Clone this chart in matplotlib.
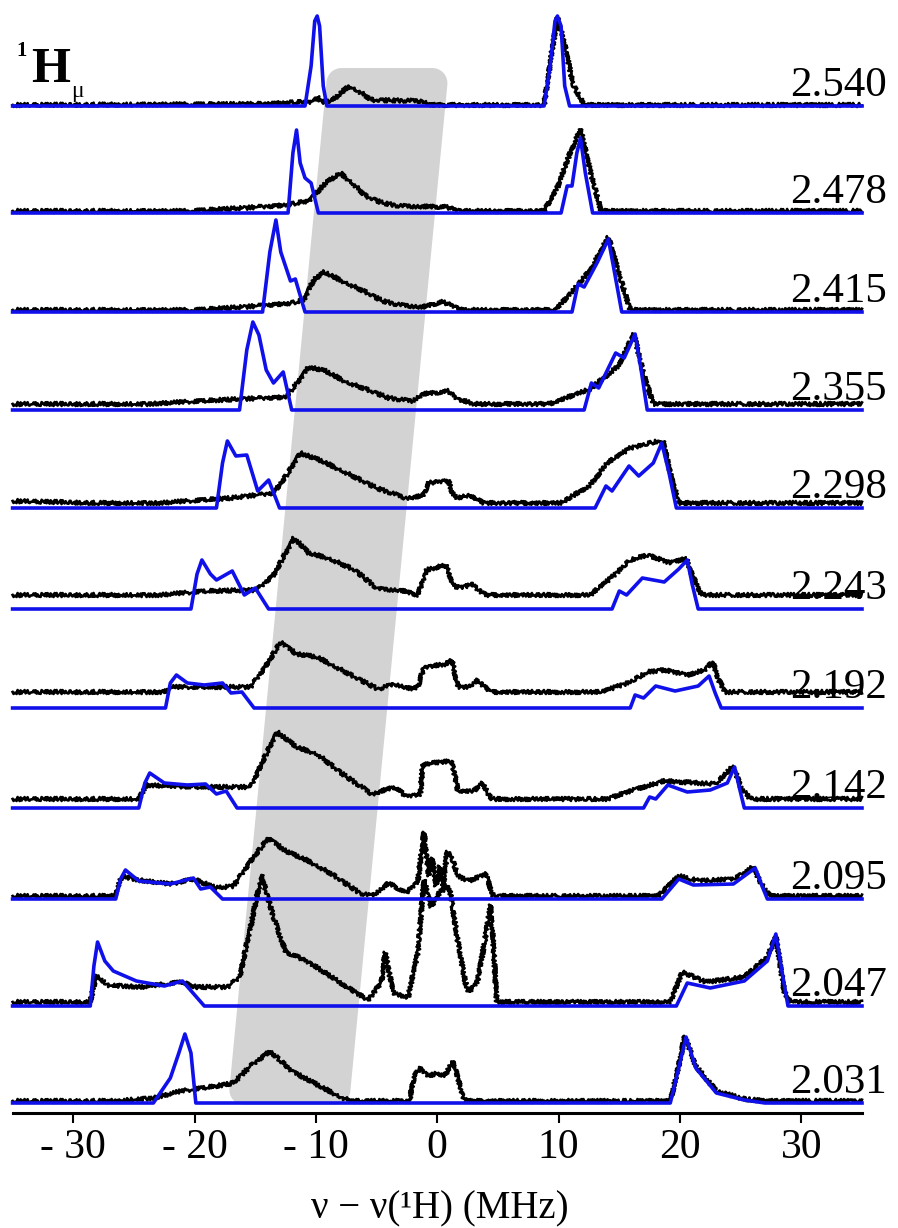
import matplotlib
matplotlib.use("Agg")
import numpy as np
import matplotlib.pyplot as plt
from matplotlib.patches import Polygon

plt.rcParams['font.family'] = ['Liberation Serif', 'DejaVu Serif']

# ── Field values (T) for each stacked spectrum, top to bottom ────────────────
fields = ["2.540", "2.478", "2.415", "2.355", "2.298", "2.243",
          "2.192", "2.142", "2.095", "2.047", "2.031"]

# ── Simulated spectra: (frequency offset MHz, intensity) ─────────────────────
sim_2540 = [(-35, 0), (-10.9, 0), (-10.4, 40), (-10.1, 85), (-9.9, 90), (-9.7, 80),
            (-9.4, 20), (-9.1, 0), (8.8, 0), (9.3, 40), (9.7, 85), (9.9, 90),
            (10.2, 80), (10.5, 20), (10.9, 0), (35, 0)]
sim_2478 = [(-35, 0), (-12.3, 0), (-11.9, 60), (-11.6, 83), (-11.3, 50), (-10.9, 35),
            (-10.4, 30), (-9.8, 0), (10.2, 0), (10.7, 27), (11.1, 27), (11.5, 60),
            (11.8, 75), (12.2, 40), (12.8, 0), (35, 0)]
sim_2415 = [(-35, 0), (-14.4, 0), (-13.8, 60), (-13.3, 92), (-12.9, 60), (-12.1, 31),
            (-11.7, 33), (-10.9, 0), (11.1, 0), (11.6, 28), (12.1, 25), (13.2, 50),
            (14.1, 73), (14.6, 40), (15.2, 0), (35, 0)]
sim_2355 = [(-35, 0), (-16.3, 0), (-15.7, 60), (-15.2, 88), (-14.7, 75), (-14.1, 40),
            (-13.5, 27), (-12.7, 38), (-12.0, 0), (12.1, 0), (12.7, 27), (13.3, 22),
            (14.7, 57), (15.4, 52), (16.3, 76), (16.8, 40), (17.3, 0), (35, 0)]
sim_2298 = [(-35, 0), (-18.2, 0), (-17.7, 45), (-17.3, 67), (-16.6, 52), (-15.7, 53),
            (-14.8, 17), (-13.9, 28), (-13.0, 0), (13.0, 0), (13.9, 22), (14.4, 17),
            (15.8, 42), (16.6, 32), (17.8, 45), (18.5, 65), (19.1, 35), (19.7, 0), (35, 0)]
sim_2243 = [(-35, 0), (-20.3, 0), (-19.8, 35), (-19.4, 49), (-18.7, 35), (-18.2, 29),
            (-16.9, 38), (-15.9, 14), (-15.0, 21), (-13.9, 0), (14.4, 0), (15.0, 18),
            (15.6, 14), (16.9, 31), (18.7, 27), (19.9, 40), (20.6, 49), (21.0, 25),
            (21.5, 0), (35, 0)]
sim_2192 = [(-35, 0), (-22.4, 0), (-22.0, 25), (-21.5, 33), (-20.6, 25), (-19.2, 23),
            (-17.7, 25), (-17.0, 15), (-16.1, 16), (-15.1, 0), (15.9, 0), (16.3, 13),
            (17.0, 10), (18.0, 22), (19.6, 17), (21.5, 22), (22.4, 32), (22.9, 15),
            (23.4, 0), (35, 0)]
sim_2142 = [(-35, 0), (-24.6, 0), (-24.1, 25), (-23.7, 35), (-22.5, 25), (-20.6, 23),
            (-19.1, 24), (-18.2, 14), (-17.4, 17), (-16.5, 0), (17.0, 0), (17.5, 11),
            (18.0, 9), (19.0, 23), (20.6, 16), (22.5, 18), (23.9, 25), (24.5, 41),
            (24.9, 20), (25.3, 0), (35, 0)]
sim_2095 = [(-35, 0), (-26.5, 0), (-26.1, 20), (-25.7, 29), (-24.6, 18), (-22.0, 15),
            (-20.1, 21), (-19.5, 10), (-18.7, 12), (-17.7, 0), (18.5, 0), (19.9, 20),
            (21.1, 14), (24.4, 15), (26.2, 31), (26.7, 15), (27.2, 0), (35, 0)]
sim_2047 = [(-35, 0), (-28.6, 0), (-28.3, 40), (-28.0, 64), (-27.4, 45), (-26.7, 35),
            (-24.8, 25), (-22.5, 20), (-21.0, 25), (-19.2, 0), (19.7, 0), (20.6, 23),
            (22.5, 18), (25.3, 25), (27.2, 45), (27.9, 72), (28.4, 35), (28.9, 0), (35, 0)]
sim_2031 = [(-35, 0), (-23.4, 0), (-22.0, 25), (-21.3, 50), (-20.8, 69), (-20.3, 50),
            (-19.9, 0), (19.2, 0), (19.8, 30), (20.5, 66), (21.3, 35), (23.0, 10),
            (25.3, 3), (27.0, 0), (35, 0)]

# ── Experimental spectra: (frequency offset MHz, intensity) ──────────────────
exp_2540 = [(-35, 0), (-15, 1), (-11, 3), (-10.2, 3), (-9.9, 8), (-9.5, 3), (-8.7, 4),
            (-7.3, 19), (-6.5, 14), (-5.4, 5), (-1.2, 4), (-0.5, 0), (8.8, 0),
            (9.4, 50), (9.9, 88), (10.5, 60), (11.2, 20), (12.1, 0), (35, 0)]
exp_2478 = [(-35, 0), (-20.6, 0), (-16, 3), (-12.5, 6), (-10.6, 10), (-9.2, 28),
            (-8.0, 38), (-7.0, 28), (-5.9, 15), (-4.5, 8), (-3.1, 5), (0.7, 4),
            (2.1, 0), (8.8, 0), (9.95, 25), (11.0, 60), (11.8, 82), (12.6, 40),
            (13.5, 0), (35, 0)]
exp_2415 = [(-35, 0), (-20.1, 0), (-16, 3), (-12, 7), (-11.0, 10), (-10.2, 30),
            (-9.3, 38), (-8.0, 30), (-5.9, 18), (-4.5, 9), (-3.1, 5), (-1.2, 3),
            (0.4, 8), (1.2, 5), (2.1, 0), (9.7, 0), (11.1, 18), (12.6, 40), (14.1, 73),
            (15.0, 35), (15.9, 0), (35, 0)]
exp_2355 = [(-35, 0), (-24, 0), (-18, 4), (-12.5, 7), (-11.6, 20), (-10.6, 37),
            (-9.2, 33), (-7.5, 22), (-5.9, 15), (-4.0, 6), (-2.1, 3), (-1.2, 10),
            (0.5, 12), (0.9, 13), (1.7, 5), (3.1, 0), (9.2, 0), (12.6, 15), (14.9, 38),
            (16.2, 70), (17.0, 30), (17.8, 0), (35, 0)]
exp_2298 = [(-35, 2), (-28, 0), (-23, 0), (-17, 5), (-13.5, 10), (-12.3, 30),
            (-11.3, 50), (-9.5, 42), (-7.8, 32), (-5.0, 15), (-2.6, 5), (-1.2, 7),
            (-0.7, 20), (0.9, 23), (1.3, 8), (1.7, 5), (2.7, 8), (3.8, 0), (10.2, 0),
            (12.6, 18), (14.0, 40), (15.9, 55), (18.2, 62), (18.6, 62), (19.2, 30),
            (19.9, 0), (35, 0)]
exp_2243 = [(-35, 0), (-23, 0), (-19, 4), (-14.9, 5), (-13.5, 20), (-11.8, 57),
            (-10.6, 42), (-9.0, 37), (-6.8, 25), (-4.9, 6), (-3.1, 5), (-1.6, 0),
            (-1.1, 18), (-0.9, 25), (0.7, 30), (1.4, 8), (2.3, 8), (2.8, 12), (3.4, 5),
            (4.0, 0), (12.6, 0), (14.4, 18), (15.9, 35), (17.3, 40), (19.2, 32),
            (20.5, 37), (21.0, 20), (21.8, 0), (35, 0)]
exp_2192 = [(-35, 0), (-22.5, 0), (-22, 5), (-15.4, 5), (-14.2, 25), (-12.9, 50),
            (-11.6, 38), (-9.9, 35), (-6.8, 15), (-4.9, 3), (-3.5, 8), (-2.1, 3),
            (-1.6, 5), (-1.1, 25), (0.7, 28), (1.2, 32), (1.7, 5), (2.6, 5), (3.3, 12),
            (3.9, 5), (4.5, 0), (13.5, 0), (15.9, 10), (17.3, 20), (18.7, 22),
            (20.6, 17), (22.0, 22), (22.7, 30), (23.2, 12), (23.7, 0), (35, 0)]
exp_2142 = [(-35, 0), (-24.6, 0), (-24.0, 14), (-20, 12), (-17, 12), (-15.4, 12),
            (-14.3, 40), (-13.2, 67), (-11.6, 52), (-9.9, 45), (-7.8, 25), (-5.4, 5),
            (-3.5, 12), (-2.6, 3), (-1.4, 5), (-1.2, 35), (1.2, 38), (1.7, 8), (3.0, 8),
            (3.7, 16), (4.2, 5), (4.5, 0), (14.0, 0), (16.4, 10), (18.7, 18),
            (22.9, 15), (24.4, 33), (25.0, 12), (25.8, 0), (35, 0)]
exp_2095 = [(-35, 0), (-26.6, 0), (-26, 20), (-24.6, 16), (-22, 12), (-20.1, 17),
            (-18.2, 8), (-16.8, 10), (-15.4, 35), (-13.9, 58), (-12.5, 45), (-10.6, 35),
            (-8.7, 22), (-6.4, 3), (-5.4, 0), (-4.0, 13), (-2.6, 3), (-1.6, 15),
            (-1.1, 64), (-0.7, 20), (-0.4, 38), (-0.1, 10), (0.2, 30), (0.5, 8),
            (0.8, 45), (1.2, 38), (1.7, 20), (2.6, 15), (4.0, 22), (4.6, 0),
            (18.2, 0), (19.9, 20), (21.6, 15), (24.4, 17), (26.0, 29), (26.7, 12),
            (27.4, 0), (35, 0)]
exp_2047 = [(-35, 0), (-28.6, 0), (-28.1, 27), (-27.2, 17), (-24.4, 15), (-21.1, 20),
            (-19.9, 15), (-17.3, 15), (-16.3, 25), (-15.3, 80), (-14.5, 127),
            (-13.5, 85), (-12.5, 50), (-11.5, 45), (-10.6, 40), (-8.7, 25), (-6.8, 10),
            (-5.7, 2), (-4.6, 20), (-4.3, 50), (-3.9, 25), (-3.5, 8), (-2.4, 5),
            (-1.6, 50), (-1.1, 122), (-0.5, 95), (0.2, 110), (1.0, 115), (1.7, 60),
            (2.3, 20), (2.6, 10), (3.3, 20), (3.9, 60), (4.4, 97), (4.7, 40), (4.9, 0),
            (19.2, 0), (20.2, 30), (22.1, 20), (25.3, 25), (27.2, 45), (27.9, 66),
            (28.6, 10), (29.1, 0), (35, 0)]
exp_2031 = [(-35, 0), (-26.7, 0), (-23.4, 3), (-21.1, 10), (-18.2, 15), (-16.8, 18),
            (-15.4, 35), (-13.8, 50), (-12.0, 30), (-9.7, 15), (-7.8, 3), (-7.0, 0),
            (-2.3, 0), (-1.9, 25), (-1.4, 33), (-0.7, 25), (0.0, 28), (0.6, 25),
            (1.3, 40), (2.1, 5), (2.4, 0), (19.2, 0), (19.8, 30), (20.4, 65), (21.3, 35),
            (23.0, 10), (25.3, 2), (27.0, 0), (35, 0)]

sim_traces = [sim_2540, sim_2478, sim_2415, sim_2355, sim_2298, sim_2243,
              sim_2192, sim_2142, sim_2095, sim_2047, sim_2031]
exp_traces = [exp_2540, exp_2478, exp_2415, exp_2355, exp_2298, exp_2243,
              exp_2192, exp_2142, exp_2095, exp_2047, exp_2031]
# experimental baseline sits a little above the simulated one
exp_base = [1, 2, 2, 6, 5, 14, 16, 9, 3, 4, 2]

tick_vals = [-30, -20, -10, 0, 10, 20, 30]
tick_text = ["- 30", "- 20", "- 10", "0", "10", "20", "30"]

# ── Layout ────────────────────────────────────────────────────────────────────
W, H = 898, 1228
TOP = 1113                      # axis line, in figure pixels from the top
offsets = [1007, 900, 801, 703, 605, 504, 405, 305, 214, 107, 10]
blue = "#1010ea"

fig = plt.figure(figsize=(W / 100, H / 100), dpi=100)
ax = fig.add_axes([12.6 / W, 1 - TOP / H, (862 - 12.6) / W, TOP / H])
ax.set_xlim(-35, 35)
ax.set_ylim(0, TOP)
ax.patch.set_alpha(0)

# slanted grey band behind the spectra (round joins give the soft corners)
band = Polygon([(-15.9, 23), (-8.4, 23), (-0.4, 1030), (-7.9, 1030)], closed=True,
               facecolor="#d3d3d3", edgecolor="#d3d3d3", lw=21.6,
               joinstyle="round", zorder=1)
ax.add_patch(band)

for sim, exp, off, eb in zip(sim_traces, exp_traces, offsets, exp_base):
    fe, he = zip(*exp)
    line, = ax.plot(fe, np.array(he) + off + eb, color="black", lw=1.9,
                    zorder=2, clip_on=False)
    line.set_sketch_params(scale=2.0, length=2.5, randomness=2)

    fs, hs = zip(*sim)
    ax.plot(fs, np.array(hs) + off, color=blue, lw=2.6, zorder=3,
            solid_joinstyle="round", clip_on=False)

# field labels at the right edge, drawn in figure pixels
for off, lab in zip(offsets, fields):
    y_px = (TOP - off) - 10
    fig.text(887 / W, 1 - y_px / H, lab, ha="right", va="baseline", fontsize=31)

for side in ["top", "left", "right"]:
    ax.spines[side].set_visible(False)
ax.spines["bottom"].set_linewidth(2.2)
ax.set_yticks([])
ax.set_xticks(tick_vals)
ax.set_xticklabels(tick_text)
ax.tick_params(axis="x", direction="out", length=7.2, width=1.5, pad=4, labelsize=30)

fig.text(440 / W, 1 - 1218 / H, "ν − ν(¹H) (MHz)", ha="center", va="baseline", fontsize=28)

# nucleus label, top left
fig.text(16 / W, 1 - 56 / H, "1", fontweight="bold", fontsize=15, va="baseline")
fig.text(31 / W, 1 - 82 / H, "H", fontweight="bold", fontsize=36, va="baseline")
fig.text(71 / W, 1 - 97 / H, "μ", fontsize=17, va="baseline")

plt.savefig("out.png", dpi=100)
